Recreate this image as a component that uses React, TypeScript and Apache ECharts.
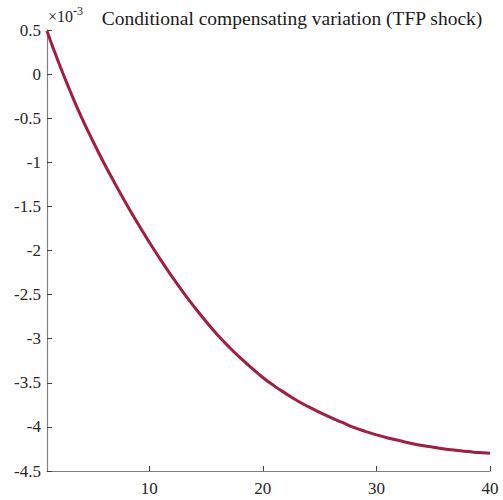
import React, { useEffect, useRef } from "react";
import * as echarts from "echarts";

const periods: number[] = Array.from({ length: 40 }, (_, i) => i + 1);
// Conditional compensating variation, in units of 1e-3
const ccv: number[] = [
  0.49, 0.14, -0.18, -0.48, -0.75, -1.005, -1.245, -1.475, -1.695, -1.905,
  -2.105, -2.295, -2.475, -2.645, -2.805, -2.955, -3.09, -3.215, -3.33, -3.44,
  -3.535, -3.62, -3.7, -3.77, -3.835, -3.895, -3.95, -4.005, -4.05, -4.09,
  -4.125, -4.155, -4.185, -4.21, -4.23, -4.25, -4.265, -4.28, -4.29, -4.3,
];
const xTicks: number[] = [10, 20, 30, 40];
const titleText = "Conditional compensating variation (TFP shock)";
const FONT = "Liberation Serif, serif";

export default function App() {
  const ref = useRef<HTMLDivElement>(null);
  useEffect(() => {
    if (!ref.current) return;
    const chart = echarts.init(ref.current, undefined, { renderer: "svg" });
    chart.setOption({
      animation: false,
      backgroundColor: "#ffffff",
      textStyle: { fontFamily: FONT },
      grid: { left: 47, right: 13, top: 30, bottom: 29, containLabel: false },
      title: {
        text: titleText,
        right: 15,
        top: 3,
        textStyle: { fontFamily: FONT, fontSize: 19.5, fontWeight: "normal", color: "#1a1a1a" },
      },
      graphic: [
        {
          type: "text",
          left: 48,
          top: 5,
          style: {
            text: "{a|×10}{b|-3}",
            rich: {
              a: { fontFamily: FONT, fontSize: 16, fill: "#262626", verticalAlign: "bottom" },
              b: { fontFamily: FONT, fontSize: 12, fill: "#262626", verticalAlign: "top", padding: [0, 0, 7, 0] },
            },
          },
        },
      ],
      xAxis: {
        type: "value",
        min: 1,
        max: 40,
        axisLine: { show: true, onZero: false, lineStyle: { color: "#808080", width: 1.2 } },
        axisTick: { show: true, inside: true, length: 5, customValues: xTicks, lineStyle: { color: "#404040" } },
        axisLabel: {
          customValues: xTicks,
          fontFamily: FONT,
          fontSize: 17,
          color: "#262626",
          margin: 9,
        },
        splitLine: { show: false },
      },
      yAxis: {
        type: "value",
        min: -4.5,
        max: 0.5,
        interval: 0.5,
        axisLine: { show: true, onZero: false, lineStyle: { color: "#808080", width: 1.2 } },
        axisTick: { show: true, inside: true, length: 5, lineStyle: { color: "#404040" } },
        axisLabel: {
          fontFamily: FONT,
          fontSize: 17,
          color: "#262626",
          margin: 6,
          formatter: (v: number) => String(Math.round(v * 10) / 10),
        },
        splitLine: { show: false },
      },
      series: [
        {
          type: "line",
          data: periods.map((p, i) => [p, ccv[i]]),
          showSymbol: false,
          smooth: true,
          lineStyle: { color: "#A51C40", width: 3 },
        },
      ],
    });
    return () => chart.dispose();
  }, []);
  return (
    <div
      ref={ref}
      style={{ position: "fixed", left: 0, top: 0, width: 503, height: 500, background: "#fff" }}
    />
  );
}
